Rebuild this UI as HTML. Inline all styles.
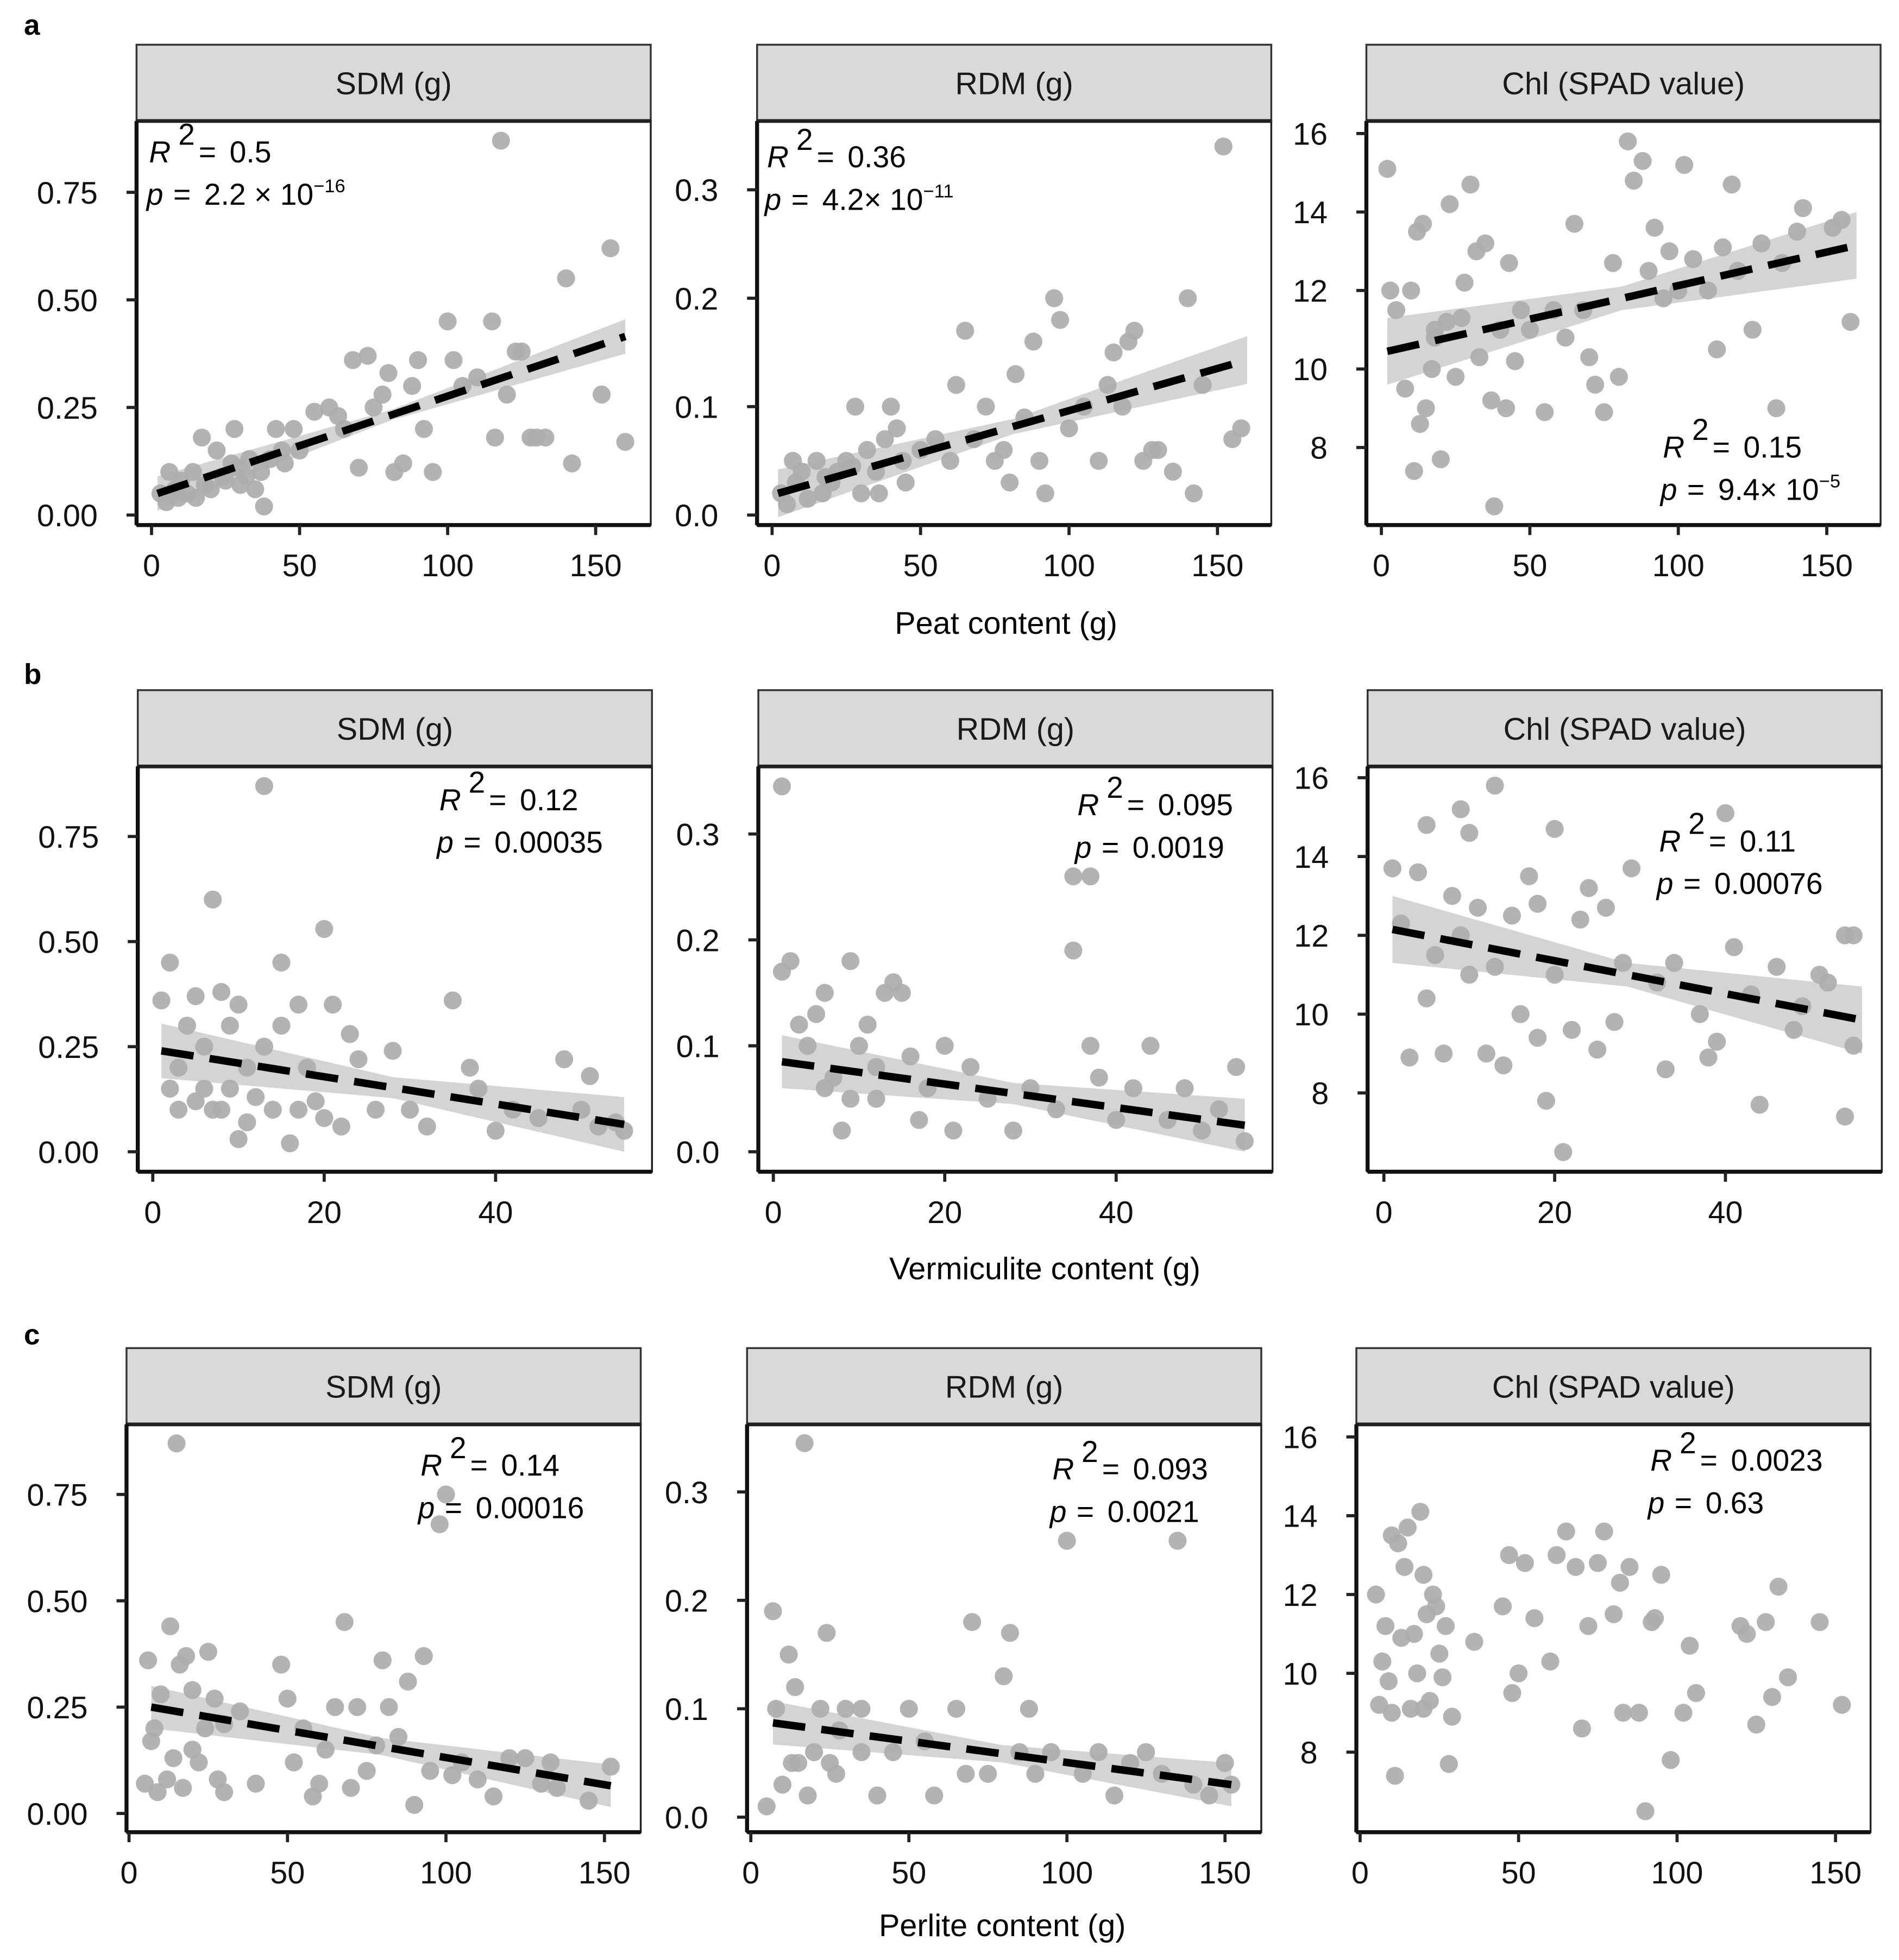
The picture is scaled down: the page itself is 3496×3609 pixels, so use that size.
<!DOCTYPE html>
<html><head><meta charset="utf-8"><style>
html,body{margin:0;padding:0;background:#fff;}
svg{display:block;font-family:"Liberation Sans",sans-serif;}
</style></head><body>
<svg id="fig" width="3496" height="3609" viewBox="0 0 1530 1579.4" xmlns="http://www.w3.org/2000/svg"><g id="root" transform="translate(110,36) scale(1.008) translate(-110,-36)"></g></svg>
<script>
// ---- data ----
const peatSDM=[[3,0.05],[5,0.03],[8,0.06],[10,0.08],[12,0.05],[14,0.1],[15,0.04],[17,0.18],[18,0.07],[20,0.06],[22,0.15],[25,0.08],[27,0.12],[28,0.2],[30,0.07],[32,0.09],[35,0.06],[37,0.1],[38,0.02],[40,0.13],[42,0.2],[44,0.15],[45,0.12],[55,0.24],[60,0.25],[63,0.23],[68,0.36],[70,0.11],[73,0.37],[75,0.25],[78,0.28],[80,0.33],[82,0.1],[85,0.12],[88,0.3],[90,0.36],[92,0.2],[95,0.1],[100,0.45],[102,0.36],[105,0.3],[110,0.32],[115,0.45],[118,0.87],[120,0.28],[123,0.38],[125,0.38],[128,0.18],[130,0.18],[133,0.18],[140,0.55],[142,0.12],[152,0.28],[155,0.62],[160,0.17],[116,0.18],[50,0.15],[65,0.2],[48,0.2],[33,0.13],[6,0.1],[9,0.04],[24,0.09],[29,0.11]];
const peatRDM=[[3,0.02],[5,0.01],[8,0.03],[10,0.04],[12,0.015],[15,0.05],[17,0.02],[20,0.03],[22,0.04],[25,0.05],[28,0.1],[30,0.02],[32,0.06],[35,0.04],[38,0.07],[40,0.1],[42,0.08],[44,0.05],[45,0.03],[50,0.06],[55,0.07],[60,0.05],[62,0.12],[65,0.17],[68,0.07],[72,0.1],[75,0.05],[78,0.06],[80,0.03],[82,0.13],[85,0.09],[88,0.16],[90,0.05],[92,0.02],[95,0.2],[97,0.18],[100,0.08],[105,0.1],[110,0.05],[113,0.12],[115,0.15],[118,0.1],[120,0.16],[122,0.17],[125,0.05],[128,0.06],[130,0.06],[135,0.04],[140,0.2],[142,0.02],[152,0.34],[155,0.07],[158,0.08],[145,0.12],[7,0.05],[18,0.035],[27,0.045],[36,0.02]];
const peatChl=[[2,15.1],[3,12],[5,11.5],[8,9.5],[10,12],[11,7.4],[12,13.5],[13,8.6],[14,13.7],[15,9],[17,10],[18,11],[20,7.7],[22,11.2],[23,14.2],[25,9.8],[27,11.3],[28,12.2],[30,14.7],[32,13],[33,10.3],[35,13.2],[37,9.2],[38,6.5],[40,11],[42,9],[43,12.7],[45,10.2],[50,11],[55,8.9],[58,11.5],[62,10.8],[65,13.7],[68,11.5],[70,10.3],[72,9.6],[75,8.9],[78,12.7],[80,9.8],[83,15.8],[85,14.8],[88,15.3],[90,12.5],[92,13.6],[95,11.8],[97,13],[100,12],[102,15.2],[105,12.8],[110,12],[113,10.5],[115,13.1],[118,14.7],[120,12.5],[125,11],[128,13.2],[133,9],[135,12.7],[140,13.5],[142,14.1],[152,13.6],[155,13.8],[158,11.2],[18,10.8],[47,11.5]];
const vermSDM=[[1,0.36],[2,0.45],[2,0.15],[3,0.2],[4,0.3],[5,0.37],[5,0.12],[6,0.25],[7,0.6],[7,0.1],[8,0.38],[9,0.3],[9,0.15],[10,0.03],[10,0.35],[11,0.2],[11,0.07],[12,0.13],[13,0.87],[13,0.25],[14,0.1],[15,0.3],[15,0.45],[16,0.02],[17,0.35],[17,0.1],[18,0.2],[19,0.12],[20,0.53],[20,0.08],[21,0.35],[22,0.06],[23,0.28],[24,0.22],[26,0.1],[28,0.24],[30,0.1],[32,0.06],[35,0.36],[37,0.2],[38,0.15],[40,0.05],[42,0.1],[45,0.08],[48,0.22],[50,0.1],[51,0.18],[52,0.06],[54,0.07],[55,0.05],[3,0.1],[6,0.15],[8,0.1]];
const vermRDM=[[1,0.345],[1,0.17],[2,0.18],[3,0.12],[4,0.1],[5,0.13],[6,0.15],[7,0.07],[8,0.02],[9,0.18],[10,0.1],[11,0.12],[12,0.05],[13,0.15],[14,0.16],[15,0.15],[16,0.09],[17,0.03],[18,0.06],[20,0.1],[21,0.02],[23,0.08],[25,0.05],[28,0.02],[30,0.06],[33,0.04],[35,0.26],[35,0.19],[37,0.26],[37,0.1],[38,0.07],[40,0.03],[42,0.06],[44,0.1],[46,0.03],[48,0.06],[50,0.02],[52,0.04],[54,0.08],[55,0.01],[6,0.06],[9,0.05],[12,0.08]];
const vermChl=[[1,13.7],[2,12.3],[3,8.9],[4,13.6],[5,14.8],[5,10.4],[6,11.5],[7,9],[8,13],[9,15.2],[9,12],[10,14.6],[10,11],[11,12.7],[12,9],[13,11.2],[13,15.8],[14,8.7],[15,12.5],[16,10],[17,13.5],[18,12.8],[18,9.4],[19,7.8],[20,14.7],[20,11],[21,6.5],[22,9.6],[23,12.4],[24,13.2],[25,9.1],[26,12.7],[27,9.8],[28,11.3],[29,13.7],[32,10.8],[33,8.6],[34,11.3],[37,10],[38,8.9],[39,9.3],[40,15.1],[41,11.7],[43,10.5],[44,7.7],[46,11.2],[48,9.6],[49,10.2],[51,11],[52,10.8],[54,12],[55,12],[54,7.4],[55,9.2]];
const perlSDM=[[5,0.07],[6,0.36],[7,0.17],[8,0.2],[9,0.05],[10,0.28],[12,0.08],[13,0.44],[14,0.13],[15,0.87],[16,0.35],[17,0.06],[18,0.37],[20,0.29],[22,0.12],[24,0.2],[25,0.38],[27,0.27],[28,0.08],[30,0.21],[35,0.24],[40,0.07],[48,0.35],[50,0.27],[52,0.12],[55,0.2],[58,0.04],[62,0.15],[65,0.25],[68,0.45],[70,0.06],[72,0.25],[75,0.1],[78,0.16],[80,0.36],[82,0.25],[85,0.18],[88,0.31],[90,0.02],[93,0.37],[95,0.1],[98,0.68],[100,0.75],[102,0.09],[105,0.12],[110,0.08],[115,0.04],[120,0.13],[125,0.13],[130,0.07],[133,0.12],[135,0.06],[145,0.03],[152,0.11],[20,0.15],[30,0.05],[60,0.07]];
const perlRDM=[[5,0.01],[7,0.19],[8,0.1],[10,0.03],[12,0.15],[14,0.12],[15,0.05],[17,0.345],[18,0.02],[20,0.06],[22,0.1],[24,0.17],[25,0.05],[28,0.08],[30,0.1],[35,0.06],[40,0.02],[45,0.06],[50,0.1],[55,0.07],[58,0.02],[65,0.1],[68,0.04],[70,0.18],[75,0.04],[80,0.13],[82,0.17],[85,0.06],[88,0.1],[90,0.04],[95,0.06],[100,0.255],[105,0.04],[110,0.06],[115,0.02],[120,0.05],[125,0.06],[130,0.04],[135,0.255],[140,0.03],[145,0.02],[150,0.05],[152,0.03],[13,0.05],[27,0.04],[35,0.1]];
const perlChl=[[5,12],[6,9.2],[7,10.3],[8,11.2],[9,9.8],[10,13.5],[11,7.4],[12,13.3],[13,10.9],[14,12.7],[15,13.7],[16,9.1],[17,11],[18,10],[19,14.1],[20,12.5],[21,11.5],[22,9.3],[23,12],[24,11.7],[25,10.5],[26,9.9],[27,11.2],[28,7.7],[29,8.9],[36,10.8],[45,11.7],[47,13],[48,9.5],[50,10],[52,12.8],[55,11.4],[60,10.3],[62,13],[65,13.6],[68,12.7],[70,8.6],[72,11.2],[75,12.8],[77,13.6],[80,11.5],[82,12.3],[83,9],[85,12.7],[88,9],[90,6.5],[92,11.3],[95,12.5],[93,11.4],[98,7.8],[102,9],[104,10.7],[106,9.5],[120,11.2],[122,11],[125,8.7],[128,11.3],[130,9.4],[132,12.2],[135,9.9],[145,11.3],[152,9.2],[10,9],[20,9.1]];
// fitted lines: [x0,y0,x1,y1] and ribbon half-width [ends, middle]
const fitLines=[[2,0.05,160,0.415],[2,0.02,160,0.143],[2,10.45,160,13.15],[1,0.24,55,0.065],[1,0.085,55,0.025],[1,12.15,56,9.85],[7,0.25,152,0.065],[7,0.087,152,0.03],null];
const ribbons=[[0.04,0.012],[0.022,0.007],[0.85,0.3],[0.065,0.025],[0.025,0.01],[0.85,0.3],[0.05,0.02],[0.02,0.008],null];
const xTicksPeat=[0,50,100,150], xTicksVerm=[0,20,40];
const yTicksSDM=["0.00","0.25","0.50","0.75"], yTicksRDM=["0.0","0.1","0.2","0.3"], yTicksChl=["8","10","12","14","16"];
const titles=["SDM (g)","RDM (g)","Chl (SPAD value)"];
// ---- layout ----
const NS="http://www.w3.org/2000/svg";
const svg=document.getElementById('root');
function el(tag,attrs,parent){const e=document.createElementNS(NS,tag);for(const k in attrs)e.setAttribute(k,attrs[k]);(parent||svg).appendChild(e);return e;}
const panels=[
 {L:110,R:521,sT:36,T:97,B:420,x0:122,x1:477,xv0:0,xv1:150,ya:412,yb:154,yv0:0,yv1:0.75,data:peatSDM,yt:yTicksSDM,xt:xTicksPeat,t:0,ann:[120,130,"0.5","2.2 × 10","−16"]},
 {L:606,R:1017,sT:36,T:97,B:420,x0:618,x1:974,xv0:0,xv1:150,ya:412,yb:152,yv0:0,yv1:0.3,data:peatRDM,yt:yTicksRDM,xt:xTicksPeat,t:1,ann:[614,134,"0.36","4.2× 10","−11"]},
 {L:1093,R:1504,sT:36,T:97,B:420,x0:1105,x1:1461,xv0:0,xv1:150,ya:358,yb:107,yv0:8,yv1:16,data:peatChl,yt:yTicksChl,xt:xTicksPeat,t:2,ann:[1330,366,"0.15","9.4× 10","−5"]},
 {L:111,R:522,sT:552,T:613,B:937,x0:123,x1:397,xv0:0,xv1:40,ya:921,yb:669,yv0:0,yv1:0.75,data:vermSDM,yt:yTicksSDM,xt:xTicksVerm,t:0,ann:[352,648,"0.12","0.00035",""]},
 {L:607,R:1018,sT:552,T:613,B:937,x0:619,x1:893,xv0:0,xv1:40,ya:921,yb:667,yv0:0,yv1:0.3,data:vermRDM,yt:yTicksRDM,xt:xTicksVerm,t:1,ann:[862,652,"0.095","0.0019",""]},
 {L:1094,R:1505,sT:552,T:613,B:937,x0:1107,x1:1380,xv0:0,xv1:40,ya:874,yb:622,yv0:8,yv1:16,data:vermChl,yt:yTicksChl,xt:xTicksVerm,t:2,ann:[1327,681,"0.11","0.00076",""]},
 {L:102,R:513,sT:1078,T:1139,B:1465,x0:104,x1:484,xv0:0,xv1:150,ya:1450,yb:1195,yv0:0,yv1:0.75,data:perlSDM,yt:yTicksSDM,xt:xTicksPeat,t:0,ann:[337,1180,"0.14","0.00016",""]},
 {L:598,R:1009,sT:1078,T:1139,B:1465,x0:601,x1:980,xv0:0,xv1:150,ya:1453,yb:1193,yv0:0,yv1:0.3,data:perlRDM,yt:yTicksRDM,xt:xTicksPeat,t:1,ann:[842,1183,"0.093","0.0021",""]},
 {L:1085,R:1496,sT:1078,T:1139,B:1465,x0:1088,x1:1468,xv0:0,xv1:150,ya:1401,yb:1149,yv0:8,yv1:16,data:perlChl,yt:yTicksChl,xt:xTicksPeat,t:2,ann:[1320,1176,"0.0023","0.63",""]}
];
panels.forEach((p,i)=>{
 const g=el('g',{});
 
 
 const sx=v=>p.x0+(v-p.xv0)/(p.xv1-p.xv0)*(p.x1-p.x0);
 const sy=v=>p.ya+(v-p.yv0)/(p.yv1-p.yv0)*(p.yb-p.ya);
 const strip=el('rect',{x:p.L,y:p.sT,width:p.R-p.L,height:p.T-p.sT,fill:'#d9d9d9',stroke:'#333','stroke-width':1.5},g);
 
 
 const st=el('text',{x:(p.L+p.R)/2,y:(p.sT+p.T)/2+9,'text-anchor':'middle','font-size':25,fill:'#1a1a1a'},g);
 st.textContent=titles[p.t];
 
 
 const box=el('rect',{x:p.L,y:p.T,width:p.R-p.L,height:p.B-p.T,fill:'#fff',stroke:'#222','stroke-width':1.5},g);
 
 
 el('line',{x1:p.L,y1:p.T,x2:p.R,y2:p.T,stroke:'#222','stroke-width':3},g);
 el('line',{x1:p.L,y1:p.T,x2:p.L,y2:p.B,stroke:'#111','stroke-width':3.2},g);
 el('line',{x1:p.L,y1:p.B,x2:p.R,y2:p.B,stroke:'#111','stroke-width':3.2},g);
 const f=fitLines[i], rb=ribbons[i];
 if(f){
  const xm=(f[0]+f[2])/2, ym=(f[1]+f[3])/2;
  const pts=[[f[0],f[1]+rb[0]],[xm,ym+rb[1]],[f[2],f[3]+rb[0]],[f[2],f[3]-rb[0]],[xm,ym-rb[1]],[f[0],f[1]-rb[0]]];
  const rib=el('path',{d:'M'+pts.map(q=>sx(q[0])+','+sy(q[1])).join('L')+'Z',fill:'#d4d4d4'},g);
  
  
 }
 p.data.forEach(d=>{
  const c=el('circle',{cx:sx(d[0]),cy:sy(d[1]),r:7.2,fill:'#acacac','fill-opacity':0.92},g);
  
  
 });
 if(f){
  const ln=el('line',{x1:sx(f[0]),y1:sy(f[1]),x2:sx(f[2]),y2:sy(f[3]),stroke:'#000','stroke-width':6,'stroke-dasharray':'26 13'},g);
  
  
 }
 p.yt.forEach(t=>{
  const y=sy(parseFloat(t));
  el('line',{x1:p.L-8,y1:y,x2:p.L,y2:y,stroke:'#222','stroke-width':2.5},g);
  const tx=el('text',{x:p.L-31,y:y+9,'text-anchor':'end','font-size':25,fill:'#111'},g);
  tx.textContent=t;
  
  
 });
 p.xt.forEach(t=>{
  const x=sx(t);
  el('line',{x1:x,y1:p.B,x2:x,y2:p.B+8,stroke:'#222','stroke-width':2.5},g);
  const tx=el('text',{x:x,y:p.B+41,'text-anchor':'middle','font-size':25,fill:'#111'},g);
  tx.textContent=t;
  
  
 });
 const a=p.ann;
 const r2=el('text',{x:a[0],y:a[1],'font-size':24,fill:'#000'},g);
 
 
 r2.innerHTML='<tspan font-style="italic">R</tspan><tspan dx="6" dy="-14">2</tspan><tspan dy="14" dx="3">= </tspan><tspan dx="4">'+a[2]+'</tspan>';
 const pv=el('text',{x:a[0]-2,y:a[1]+34,'font-size':24,fill:'#000'},g);
 
 
 pv.innerHTML='<tspan font-style="italic">p</tspan><tspan dx="8">= </tspan><tspan dx="4">'+a[3]+'</tspan>'+(a[4]?'<tspan font-size="15" dy="-10">'+a[4]+'</tspan>':'');
});
function txt(x,y,s,size,bold,name,anchor){const t=el('text',{x:x,y:y,'font-size':size,'font-weight':bold?'bold':'normal','text-anchor':anchor||'start',fill:'#000'});t.textContent=s;return t;}
txt(20,28,'a',23,true,'panel-label-a');
txt(20,547,'b',23,true,'panel-label-b');
txt(20,1075,'c',23,true,'panel-label-c');
txt(805,507,'Peat content (g)',25,false,'x-axis-title-peat','middle');
txt(836,1023,'Vermiculite content (g)',25,false,'x-axis-title-vermiculite','middle');
txt(802,1548,'Perlite content (g)',25,false,'x-axis-title-perlite','middle');
</script>
</body></html>
